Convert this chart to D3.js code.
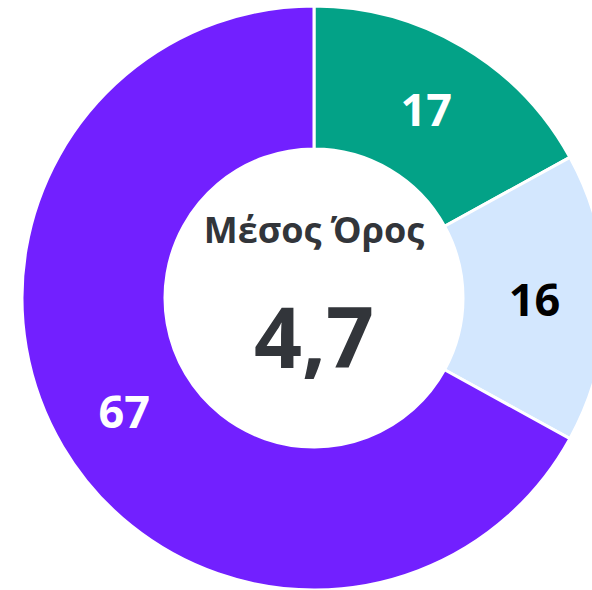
<!DOCTYPE html>
<html>
<head>
<meta charset="utf-8">
<script src="https://cdn.jsdelivr.net/npm/d3@7"></script>
<style>
html,body{margin:0;padding:0;background:#fff;overflow:hidden;}
svg{display:block;}
</style>
</head>
<body>
<svg id="chart" width="592" height="590"></svg>
<script>
const categories = ["A", "B", "C"];
const values = [17, 16, 67];
const colors = ["#03a287", "#d3e7fe", "#7220ff"];
const labelColors = ["#ffffff", "#000000", "#ffffff"];
const centerTitle = "Μέσος Όρος";
const centerValue = "4,7";

const svg = d3.select("#chart");
const cx = 314, cy = 298, R = 292, r = 149;
const g = svg.append("g").attr("transform", `translate(${cx},${cy})`);

const pie = d3.pie().sort(null).value(d => d.v);
const data = pie(categories.map((c, i) => ({c, v: values[i], i})));
const arc = d3.arc().innerRadius(r).outerRadius(R);

g.selectAll("path.slice").data(data).join("path")
  .attr("class", "slice")
  .attr("d", arc)
  .attr("fill", d => colors[d.data.i])
  .attr("stroke", "#fff")
  .attr("stroke-width", 3);

g.selectAll("text.lbl").data(data).join("text")
  .attr("class", "lbl")
  .attr("x", d => arc.centroid(d)[0])
  .attr("y", d => arc.centroid(d)[1])
  .attr("text-anchor", "middle")
  .attr("dominant-baseline", "central")
  .attr("font-family", "'Open Sans', sans-serif")
  .attr("font-weight", 700)
  .attr("font-size", 45)
  .attr("fill", d => labelColors[d.data.i])
  .text(d => d.data.v);

g.append("text")
  .attr("x", 0).attr("y", -55)
  .attr("text-anchor", "middle")
  .attr("font-family", "'Open Sans', sans-serif")
  .attr("font-weight", 700)
  .attr("font-size", 36)
  .attr("fill", "#32353a")
  .text(centerTitle);

g.append("text")
  .attr("x", 0).attr("y", 70)
  .attr("text-anchor", "middle")
  .attr("font-family", "'Open Sans', sans-serif")
  .attr("font-weight", 700)
  .attr("font-size", 84)
  .attr("fill", "#32353a")
  .text(centerValue);
</script>
</body>
</html>
